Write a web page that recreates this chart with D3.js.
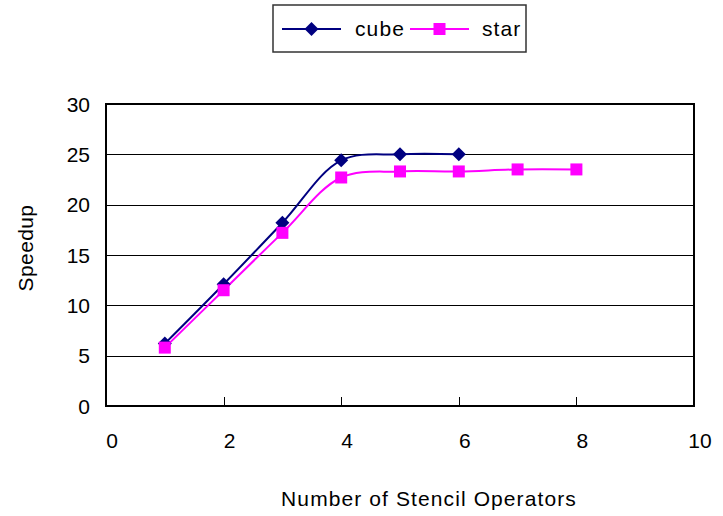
<!DOCTYPE html>
<html><head><meta charset="utf-8">
<script src="https://cdn.jsdelivr.net/npm/d3@7"></script>
<style>
html,body{margin:0;padding:0;background:#fff;}
text{font-family:"Liberation Sans",Arial,sans-serif;fill:#000;}
</style></head>
<body>
<svg id="chart" width="723" height="516"></svg>
<script>
const cubeX = [1, 2, 3, 4, 5, 6];
const cubeY = [6.2, 12.1, 18.2, 24.4, 25.0, 25.0];
const starX = [1, 2, 3, 4, 5, 6, 7, 8];
const starY = [5.8, 11.5, 17.2, 22.7, 23.3, 23.3, 23.5, 23.5];
const xTicks = [0, 2, 4, 6, 8, 10];
const yTicks = [0, 5, 10, 15, 20, 25, 30];
const seriesNames = ["cube", "star"];

const svg = d3.select("#chart");
const L = 106, R = 694, T = 104, B = 406;
const x = d3.scaleLinear().domain([0, 10]).range([L, R]);
const y = d3.scaleLinear().domain([0, 30]).range([B, T]);

// gridlines
svg.append("g").selectAll("line").data(yTicks.filter(v => v > 0 && v < 30)).join("line")
  .attr("x1", L).attr("x2", R)
  .attr("y1", d => Math.round(y(d)) + 0.5).attr("y2", d => Math.round(y(d)) + 0.5)
  .attr("stroke", "#000").attr("stroke-width", 1);

// x ticks (inside)
svg.append("g").selectAll("line").data(xTicks.filter(v => v > 0 && v < 10)).join("line")
  .attr("x1", d => Math.round(x(d)) + 0.5).attr("x2", d => Math.round(x(d)) + 0.5)
  .attr("y1", B).attr("y2", B - 9)
  .attr("stroke", "#000").attr("stroke-width", 1);

// plot border
svg.append("rect").attr("x", L).attr("y", T).attr("width", R - L).attr("height", B - T)
  .attr("fill", "none").attr("stroke", "#000").attr("stroke-width", 2);

// y labels
svg.append("g").selectAll("text").data(yTicks).join("text")
  .attr("x", 90).attr("y", d => y(d) + 7.5)
  .attr("text-anchor", "end").attr("font-size", 21)
  .text(d => d);

// x labels
svg.append("g").selectAll("text").data(xTicks).join("text")
  .attr("x", d => x(d) + 6).attr("y", 448)
  .attr("text-anchor", "middle").attr("font-size", 21)
  .text(d => d);

// axis titles
svg.append("text").attr("x", 429).attr("y", 506).attr("text-anchor", "middle")
  .attr("font-size", 21).attr("letter-spacing", 1.1).text("Number of Stencil Operators");
svg.append("text").attr("transform", "translate(33,248) rotate(-90)").attr("text-anchor", "middle")
  .attr("font-size", 21).attr("letter-spacing", 0.4).text("Speedup");

const line = d3.line().x(d => x(d[0])).y(d => y(d[1])).curve(d3.curveCatmullRom.alpha(0.5));
const cubeData = cubeX.map((v, i) => [v, cubeY[i]]);
const starData = starX.map((v, i) => [v, starY[i]]);

svg.append("path").datum(starData).attr("d", line)
  .attr("fill", "none").attr("stroke", "#FF00FF").attr("stroke-width", 2);
svg.append("path").datum(cubeData).attr("d", line)
  .attr("fill", "none").attr("stroke", "#000080").attr("stroke-width", 2);

const diamond = (cx, cy, s) => `M${cx},${cy - s}L${cx + s},${cy}L${cx},${cy + s}L${cx - s},${cy}Z`;

svg.append("g").selectAll("path").data(cubeData).join("path")
  .attr("d", d => diamond(x(d[0]), y(d[1]), 7)).attr("fill", "#000080");
svg.append("g").selectAll("rect").data(starData).join("rect")
  .attr("x", d => x(d[0]) - 6).attr("y", d => y(d[1]) - 6)
  .attr("width", 12).attr("height", 12).attr("fill", "#FF00FF");

// legend
const lg = svg.append("g");
lg.append("rect").attr("x", 273).attr("y", 5).attr("width", 253).attr("height", 47)
  .attr("fill", "#fff").attr("stroke", "#333").attr("stroke-width", 1.5);
const legendItems = [
  {name: seriesNames[0], color: "#000080", x1: 282, x2: 341, tx: 355, shape: "diamond"},
  {name: seriesNames[1], color: "#FF00FF", x1: 410, x2: 469, tx: 482, shape: "square"}
];
legendItems.forEach(it => {
  lg.append("line").attr("x1", it.x1).attr("x2", it.x2).attr("y1", 29).attr("y2", 29)
    .attr("stroke", it.color).attr("stroke-width", 2);
  const cx = (it.x1 + it.x2) / 2;
  if (it.shape === "diamond") lg.append("path").attr("d", diamond(cx, 29, 7)).attr("fill", it.color);
  else lg.append("rect").attr("x", cx - 6).attr("y", 23).attr("width", 12).attr("height", 12).attr("fill", it.color);
  lg.append("text").attr("x", it.tx).attr("y", 36).attr("font-size", 21).attr("letter-spacing", 1.1).text(it.name);
});
</script>
</body></html>
